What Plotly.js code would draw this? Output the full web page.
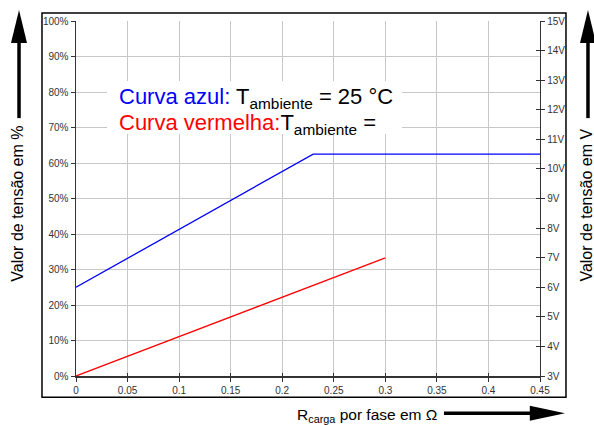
<!DOCTYPE html>
<html>
<head>
<meta charset="utf-8">
<script src="https://cdn.plot.ly/plotly-3.0.1.min.js"></script>
<style>html,body{margin:0;padding:0;background:#fff;}#chart{width:594px;height:425px;}</style>
</head>
<body>
<div id="chart"></div>
<script>
// Data
const xBlue = [0, 0.23, 0.45];
const yBlue = [25, 62.5, 62.5];
const xRed = [0, 0.3];
const yRed = [0, 33.3];
const xTickVals = [0, 0.05, 0.1, 0.15, 0.2, 0.25, 0.3, 0.35, 0.4, 0.45];
const xTickText = ['0', '0.05', '0.1', '0.15', '0.2', '0.25', '0.3', '0.35', '0.4', '0.45'];
const yPctVals = [0, 10, 20, 30, 40, 50, 60, 70, 80, 90, 100];
const yPctText = ['0%', '10%', '20%', '30%', '40%', '50%', '60%', '70%', '80%', '90%', '100%'];
const yVoltVals = [3, 4, 5, 6, 7, 8, 9, 10, 11, 12, 13, 14, 15];
const yVoltText = ['3V', '4V', '5V', '6V', '7V', '8V', '9V', '10V', '11V', '12V', '13V', '14V', '15V'];

const FONT = 'Liberation Sans, Arial, Helvetica, sans-serif';
const axisCol = '#333333';
const gridCol = '#c8c8c8';

const traces = [
  {x: xBlue, y: yBlue, type: 'scatter', mode: 'lines', line: {color: '#0000ff', width: 1.3}, showlegend: false, hoverinfo: 'skip'},
  {x: xRed, y: yRed, type: 'scatter', mode: 'lines', line: {color: '#ff0000', width: 1.3}, showlegend: false, hoverinfo: 'skip'},
  {x: [], y: [], xaxis: 'x', yaxis: 'y2', type: 'scatter', mode: 'lines', showlegend: false, hoverinfo: 'skip'},
  {x: [], y: [], xaxis: 'x2', yaxis: 'y3', type: 'scatter', mode: 'lines', showlegend: false, hoverinfo: 'skip'}
];

const tickFont = {family: FONT, size: 10, color: axisCol};

const layout = {
  width: 594, height: 425,
  margin: {l: 76, r: 54, t: 21, b: 49},
  paper_bgcolor: '#ffffff', plot_bgcolor: '#ffffff',
  showlegend: false,
  font: {family: FONT, color: '#000'},
  xaxis: {
    range: [0, 0.45], tickvals: xTickVals, ticktext: xTickText,
    showgrid: true, gridcolor: gridCol, gridwidth: 1, zeroline: false,
    showline: true, linecolor: axisCol, linewidth: 1.5,
    ticks: 'outside', ticklen: 4, tickcolor: axisCol, tickwidth: 1,
    tickfont: tickFont, fixedrange: true
  },
  xaxis2: {
    range: [0, 0.45], tickvals: xTickVals, overlaying: 'x', side: 'bottom', anchor: 'y',
    showgrid: false, zeroline: false, showline: false, showticklabels: false,
    ticks: 'inside', ticklen: 3, tickcolor: axisCol, tickwidth: 1
  },
  yaxis: {
    range: [0, 100], tickvals: yPctVals, ticktext: yPctText,
    showgrid: true, gridcolor: gridCol, gridwidth: 1, zeroline: false,
    showline: true, linecolor: axisCol, linewidth: 1.5,
    ticks: 'outside', ticklen: 4, tickcolor: axisCol, tickwidth: 1,
    tickfont: tickFont, fixedrange: true
  },
  yaxis2: {
    range: [3, 15], tickvals: yVoltVals, ticktext: yVoltText,
    overlaying: 'y', side: 'right', anchor: 'x',
    showgrid: false, zeroline: false,
    showline: true, linecolor: axisCol, linewidth: 1.2,
    ticks: 'outside', ticklen: 4, tickcolor: axisCol, tickwidth: 1,
    tickfont: tickFont, fixedrange: true
  },
  yaxis3: {
    range: [3, 15], tickvals: yVoltVals, overlaying: 'y', side: 'right', anchor: 'x',
    showgrid: false, zeroline: false, showline: false, showticklabels: false,
    ticks: 'inside', ticklen: 4, tickcolor: axisCol, tickwidth: 1
  },
  shapes: [
    // outer frame
    {type: 'rect', xref: 'paper', yref: 'paper', x0: -0.0733, x1: 1.056, y0: -0.060, y1: 1.0226,
     line: {color: '#000', width: 1.5}, fillcolor: 'rgba(0,0,0,0)', layer: 'above'},
    // left arrow
    {type: 'line', xref: 'paper', yref: 'paper', x0: -0.1228, x1: -0.1228, y0: 0.7265, y1: 0.94,
     line: {color: '#000', width: 3.5}},
    {type: 'path', xref: 'paper', yref: 'paper', path: 'M -0.1401,0.938 L -0.1056,0.938 L -0.1228,1.031 Z',
     fillcolor: '#000', line: {color: '#000', width: 0}},
    // right arrow
    {type: 'line', xref: 'paper', yref: 'paper', x0: 1.1034, x1: 1.1034, y0: 0.7265, y1: 0.94,
     line: {color: '#000', width: 3.5}},
    {type: 'path', xref: 'paper', yref: 'paper', path: 'M 1.0862,0.938 L 1.1207,0.938 L 1.1034,1.031 Z',
     fillcolor: '#000', line: {color: '#000', width: 0}},
    // bottom arrow
    {type: 'line', xref: 'paper', yref: 'paper', x0: 0.793, x1: 0.98, y0: -0.1052, y1: -0.1052,
     line: {color: '#000', width: 3.5}},
    {type: 'path', xref: 'paper', yref: 'paper', path: 'M 0.978,-0.084 L 0.978,-0.1263 L 1.0539,-0.1052 Z',
     fillcolor: '#000', line: {color: '#000', width: 0}}
  ],
  annotations: [
    // white box behind legend text
    {xref: 'x', yref: 'y', x: 0.0301, y: 83.1, xanchor: 'left', yanchor: 'top',
     text: ' ', showarrow: false, width: 295, height: 53, bgcolor: '#ffffff', borderpad: 0, borderwidth: 0},
    {xref: 'x', yref: 'y', x: 0.0395, y: 78.3, xanchor: 'left', yanchor: 'middle', showarrow: false,
     text: '<span style="color:#0000ff">Curva azul:</span> T<sub>ambiente</sub> = 25 °C',
     font: {family: FONT, size: 22, color: '#000'}},
    {xref: 'x', yref: 'y', x: 0.0395, y: 71.0, xanchor: 'left', yanchor: 'middle', showarrow: false,
     text: '<span style="color:#ff0000">Curva vermelha:</span>T<sub>ambiente</sub> =',
     font: {family: FONT, size: 22, color: '#000'}},
    // axis titles
    {xref: 'paper', yref: 'paper', x: -0.126, y: 0.484, xanchor: 'center', yanchor: 'middle', showarrow: false,
     textangle: -90, text: 'Valor de tensão em %', font: {family: FONT, size: 16, color: '#000'}},
    {xref: 'paper', yref: 'paper', x: 1.1013, y: 0.480, xanchor: 'center', yanchor: 'middle', showarrow: false,
     textangle: -90, text: 'Valor de tensão em V', font: {family: FONT, size: 16, color: '#000'}},
    {xref: 'paper', yref: 'paper', x: 0.627, y: -0.11, xanchor: 'center', yanchor: 'middle', showarrow: false,
     text: 'R<sub>carga</sub> por fase em Ω', font: {family: FONT, size: 15.5, color: '#000'}}
  ]
};

Plotly.newPlot('chart', traces, layout, {staticPlot: true, displayModeBar: false});
</script>
</body>
</html>
